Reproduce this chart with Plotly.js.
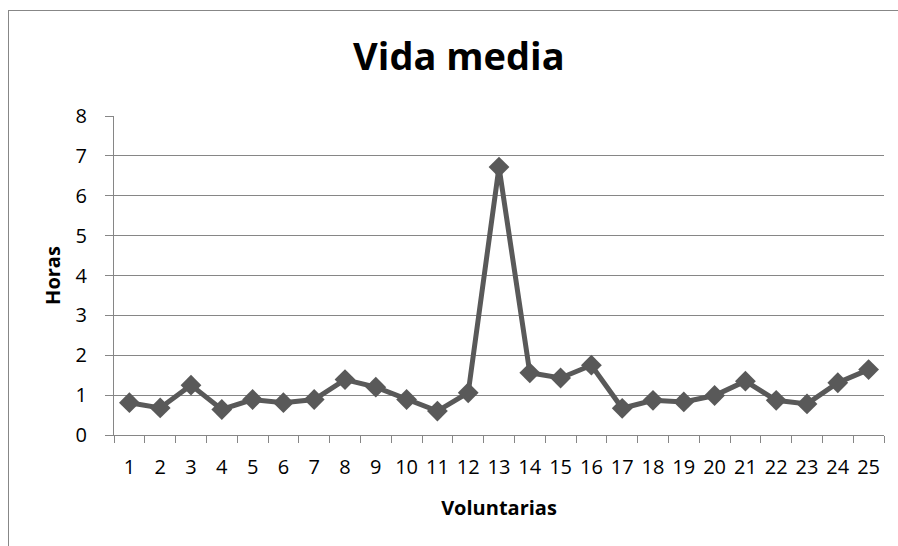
<!DOCTYPE html>
<html>
<head>
<meta charset="utf-8">
<script src="https://cdn.plot.ly/plotly-3.0.1.min.js"></script>
<style>
  html, body { margin: 0; padding: 0; background: #ffffff; }
  #wrap { position: relative; width: 898px; height: 546px; overflow: hidden; }
  #chart { position: absolute; left: 0; top: 0; width: 898px; height: 546px; }
  #frame { position: absolute; left: 8px; top: 10px; width: 900px; height: 560px;
           border-left: 1px solid #878787; border-top: 1px solid #878787; pointer-events: none; }
</style>
</head>
<body>
<div id="wrap">
  <div id="chart"></div>
  <div id="frame"></div>
</div>
<script>
// Volunteers (1..25) and measured half-life in hours
const voluntarias = ['1','2','3','4','5','6','7','8','9','10','11','12','13',
                     '14','15','16','17','18','19','20','21','22','23','24','25'];
const horas = [0.81, 0.68, 1.25, 0.64, 0.89, 0.81, 0.89, 1.39, 1.20, 0.89, 0.60, 1.06, 6.72,
               1.56, 1.43, 1.75, 0.67, 0.87, 0.83, 0.99, 1.35, 0.87, 0.78, 1.31, 1.64];
const yTicks = [0, 1, 2, 3, 4, 5, 6, 7, 8];

const fontFamily = '"Open Sans", Lato, sans-serif';
const gray = '#868686';
const serieColor = '#595959';

const trace = {
  x: voluntarias,
  y: horas,
  type: 'scatter',
  mode: 'lines+markers',
  line: { color: serieColor, width: 5 },
  marker: { symbol: 'diamond', size: 16, color: serieColor },
  hoverinfo: 'x+y'
};

const layout = {
  width: 898,
  height: 546,
  margin: { l: 114, r: 14, t: 116, b: 111 },
  paper_bgcolor: '#ffffff',
  plot_bgcolor: '#ffffff',
  showlegend: false,
  font: { family: fontFamily, size: 20, color: '#000000' },
  title: {
    text: '<b>Vida media</b>',
    font: { family: fontFamily, size: 38, color: '#000000' },
    x: 0.511, xanchor: 'center', xref: 'container',
    y: 1 - 57 / 546, yanchor: 'middle', yref: 'container'
  },
  xaxis: {
    type: 'category',
    range: [-0.5, voluntarias.length - 0.5],
    tickson: 'boundaries',
    tickangle: 0,
    ticks: 'outside',
    ticklen: 7,
    tickwidth: 1,
    tickcolor: gray,
    showline: true,
    linecolor: gray,
    linewidth: 1,
    showgrid: false,
    zeroline: false,
    ticklabelstandoff: 14,
    tickfont: { family: fontFamily, size: 20, color: '#000000' },
    title: {
      text: '<b>Voluntarias</b>',
      font: { family: fontFamily, size: 20, color: '#000000' },
      standoff: 21
    },
    fixedrange: true
  },
  yaxis: {
    range: [0, 8],
    tickvals: yTicks,
    ticktext: yTicks.map(String),
    ticks: 'outside',
    ticklen: 8,
    tickwidth: 1,
    tickcolor: gray,
    showline: true,
    linecolor: gray,
    linewidth: 1,
    showgrid: true,
    gridcolor: gray,
    gridwidth: 1,
    zeroline: false,
    ticklabelstandoff: 14,
    tickfont: { family: fontFamily, size: 20, color: '#000000' },
    title: {
      text: '<b>Horas</b>',
      font: { family: fontFamily, size: 20, color: '#000000' },
      standoff: 9
    },
    fixedrange: true
  }
};

Plotly.newPlot('chart', [trace], layout, { displayModeBar: false, staticPlot: true });
</script>
</body>
</html>
